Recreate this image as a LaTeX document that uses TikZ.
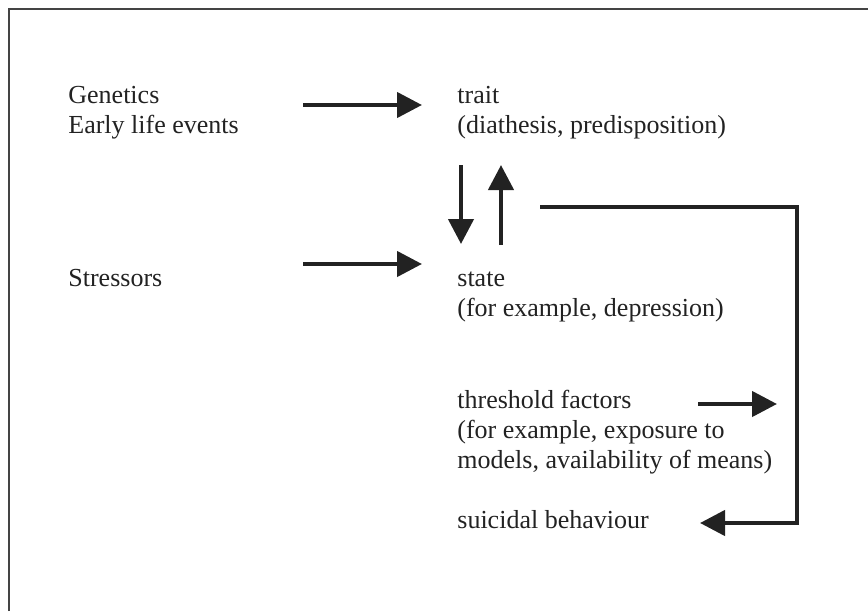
\documentclass[tikz,border=0pt]{standalone}
\usepackage{fontspec}
\setmainfont{Liberation Serif}
\usetikzlibrary{arrows.meta}
\definecolor{ink}{HTML}{222222}
\definecolor{framec}{HTML}{444444}
\tikzset{
  lbl/.style={anchor=base west, inner sep=0pt, text=ink, font=\fontsize{13}{15}\selectfont},
  flow/.style={line width=2.2pt, draw=ink, line join=miter, -{Triangle[length=12.5pt,width=12.5pt]}},
  framel/.style={line width=1pt, draw=framec}
}
\begin{document}
\begin{tikzpicture}[x=0.5pt,y=-0.5pt]
\useasboundingbox (0,0) rectangle (868,611);
% frame (left and top edges)
\draw[framel] (9,611) -- (9,9) -- (868,9);
% texts
\node[lbl] (gen) at (68,103) {Genetics};
\node[lbl] (early) at (68,133) {Early life events};
\node[lbl] (stress) at (68,286) {Stressors};
\node[lbl] (trait) at (457,103) {trait};
\node[lbl] (traitb) at (457,133) {(diathesis, predisposition)};
\node[lbl] (state) at (457,286) {state};
\node[lbl] (stateb) at (457,316) {(for example, depression)};
\node[lbl] (thr) at (457,408) {threshold factors};
\node[lbl] (thrb) at (457,438) {(for example, exposure to};
\node[lbl] (thrc) at (457,468) {models, availability of means)};
\node[lbl] (sui) at (457,528) {suicidal behaviour};
% arrow end points
\coordinate (a1s) at (303,105);
\coordinate (a1e) at (422,105);
\coordinate (a2s) at (303,264);
\coordinate (a2e) at (422,264);
\coordinate (dns) at (461,165);
\coordinate (dne) at (461,244);
\coordinate (ups) at (501,245);
\coordinate (upe) at (501,165);
\coordinate (fbs) at (540,207);
\coordinate (fbc) at (797,523);
\coordinate (fbe) at (700,523);
\coordinate (ths) at (698,404);
\coordinate (the) at (777,404);
% connectors
\draw[flow] (a1s) -- (a1e);
\draw[flow] (a2s) -- (a2e);
\draw[flow] (dns) -- (dne);
\draw[flow] (ups) -- (upe);
\draw[flow] (fbs) -| (fbc) -- (fbe);
\draw[flow] (ths) -- (the);
\end{tikzpicture}
\end{document}
